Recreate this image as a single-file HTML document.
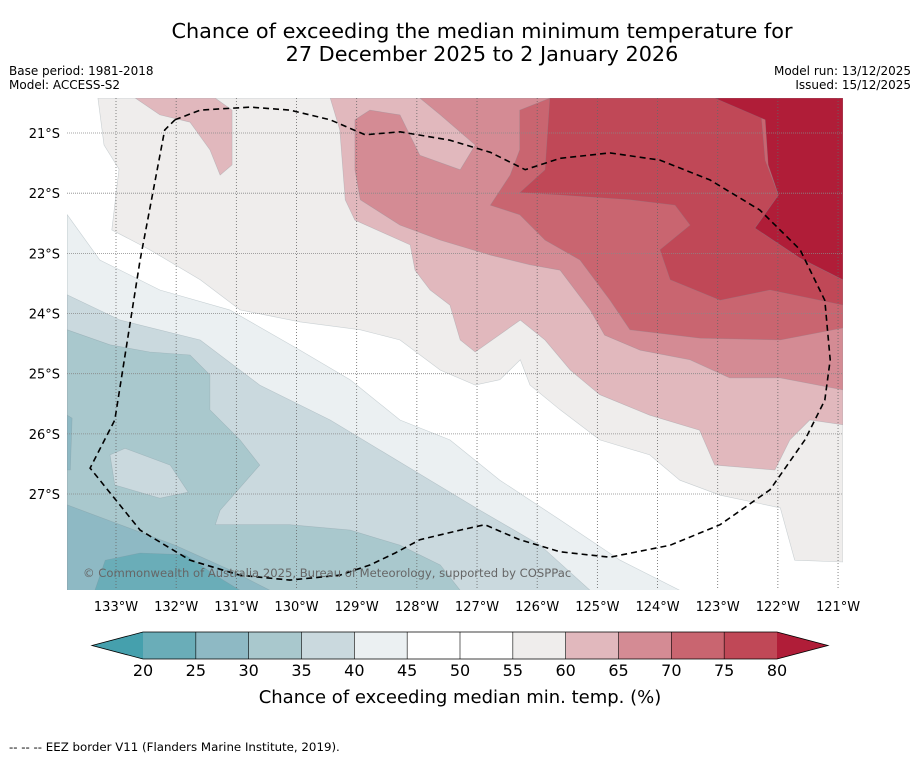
<!DOCTYPE html>
<html><head><meta charset="utf-8"><style>
html,body{margin:0;padding:0;background:#fff;}
svg{display:block;font-family:"DejaVu Sans","Liberation Sans",sans-serif;}
</style></head><body>
<svg id="svg" width="919" height="758" viewBox="0 0 919 758">
<defs><clipPath id="mapclip"><rect x="67" y="98" width="776" height="492"/></clipPath></defs>
<text x="482" y="38" text-anchor="middle" font-size="20.8" fill="#000">Chance of exceeding the median minimum temperature for</text>
<text x="482" y="61" text-anchor="middle" font-size="20.8" fill="#000">27 December 2025 to 2 January 2026</text>
<text x="9" y="75" font-size="12">Base period: 1981-2018</text>
<text x="9" y="89" font-size="12">Model: ACCESS-S2</text>
<text x="911" y="75" font-size="12" text-anchor="end">Model run: 13/12/2025</text>
<text x="911" y="89" font-size="12" text-anchor="end">Issued: 15/12/2025</text>
<g id="map" clip-path="url(#mapclip)">
<rect x="67" y="98" width="776" height="492" fill="#ffffff"/>
</g>
<g id="axes"></g>
<g id="cbar"></g>
<text x="460" y="703" text-anchor="middle" font-size="18">Chance of exceeding median min. temp. (%)</text>
<text x="9" y="751" font-size="11.8">--  --  -- EEZ border V11 (Flanders Marine Institute, 2019).</text>
</svg>
<script>
// Axis tick data
const lonTicks = [133,132,131,130,129,128,127,126,125,124,123,122,121];
const latTicks = [21,22,23,24,25,26,27];
// Colour bar data
const levels = [20,25,30,35,40,45,50,55,60,65,70,75,80];
const binColors = ["#6aadb8","#8eb9c4","#a9c8cd","#cad9de","#ebf0f2","#ffffff","#ffffff","#efedec","#e1b8bd","#d48b94","#c96570","#c04857"];
const underColor = "#45a0ad";
const overColor = "#b01d38";
// Contour regions: [degrees West, degrees South]
const regionColors = ["#ebf0f2","#cad9de","#a9c8cd","#cad9de","#8eb9c4","#8eb9c4","#6aadb8","#efedec","#e1b8bd","#e1b8bd","#d48b94","#c96570","#c04857","#b01d38"];
const regionNames = ["region-40-45","region-35-40","region-30-35","region-35-40-pocket","region-25-30","region-25-30-edge","region-20-25","region-55-60","region-60-65","region-60-65-west","region-65-70","region-70-75","region-75-80","region-above-80"];
const regions = [
[[133.81,22.36],[133.27,23.11],[132.27,23.61],[131.11,23.94],[129.94,24.61],[129.11,25.10],[128.28,25.77],[127.45,26.10],[126.62,26.77],[125.62,27.43],[124.62,28.10],[123.63,28.60],[133.81,28.60]],
[[133.81,23.69],[132.93,24.11],[131.60,24.44],[130.61,25.19],[129.44,25.77],[128.61,26.27],[127.78,26.77],[126.95,27.27],[125.95,27.85],[125.12,28.60],[133.81,28.60]],
[[133.81,24.27],[133.10,24.52],[132.44,24.64],[131.77,24.69],[131.44,25.02],[131.44,25.60],[130.94,26.10],[130.61,26.52],[131.27,27.27],[131.35,27.51],[130.11,27.51],[129.11,27.60],[128.28,27.85],[127.61,28.18],[127.28,28.60],[133.81,28.60]],
[[133.10,26.35],[132.85,26.24],[132.10,26.52],[131.80,26.97],[132.27,27.07],[133.02,26.85]],
[[133.81,27.18],[132.93,27.51],[132.02,27.85],[131.11,28.26],[130.44,28.60],[133.81,28.60]],
[[133.81,25.69],[133.73,25.74],[133.76,26.60],[133.81,26.60]],
[[133.35,28.60],[133.18,28.10],[132.60,27.98],[131.85,28.01],[131.35,28.35],[130.94,28.60]],
[[133.30,20.42],[133.20,21.20],[132.95,21.60],[133.07,22.61],[132.44,22.94],[131.60,23.44],[130.94,23.94],[129.94,24.14],[128.94,24.27],[128.28,24.44],[127.61,24.94],[127.03,25.19],[126.62,25.10],[126.28,24.77],[126.12,25.19],[125.62,25.60],[124.96,26.10],[124.13,26.35],[123.63,26.77],[122.96,27.02],[121.96,27.23],[121.72,28.10],[120.92,28.13],[120.92,20.42]],
[[129.44,20.42],[129.28,20.95],[129.19,22.11],[129.03,22.45],[128.11,22.86],[128.03,23.28],[127.78,23.61],[127.45,23.86],[127.28,24.44],[127.03,24.64],[126.28,24.11],[125.87,24.44],[125.45,24.94],[124.96,25.35],[124.13,25.69],[123.30,25.94],[123.05,26.52],[122.05,26.60],[121.80,26.10],[121.47,25.77],[120.92,25.85],[120.92,20.42]],
[[132.68,20.42],[132.27,20.70],[131.77,20.82],[131.44,21.28],[131.27,21.70],[131.07,21.53],[131.07,20.62],[131.35,20.42]],
[[129.03,20.78],[128.78,20.62],[128.28,20.70],[127.95,21.37],[127.28,21.61],[127.03,21.20],[127.61,20.70],[127.95,20.42],[120.92,20.42],[120.92,25.27],[121.96,25.07],[122.80,25.07],[123.46,24.77],[124.29,24.61],[124.88,24.36],[125.12,23.94],[125.62,23.28],[126.12,23.19],[126.78,23.03],[127.61,22.78],[128.28,22.53],[128.94,22.11],[129.03,21.61]],
[[126.78,22.20],[126.29,22.36],[125.87,22.78],[125.29,23.11],[124.79,23.78],[124.46,24.27],[123.29,24.41],[121.96,24.44],[120.92,24.24],[120.92,20.42],[125.79,20.42],[126.29,20.62],[126.29,21.28],[126.45,21.70]],
[[126.29,21.99],[125.87,21.61],[125.79,20.42],[122.30,20.42],[122.21,21.45],[121.99,22.03],[122.38,22.58],[121.63,23.08],[120.92,23.44],[120.92,23.86],[122.13,23.61],[122.96,23.78],[123.79,23.44],[123.96,22.94],[123.46,22.53],[123.71,22.20],[124.46,22.11],[125.62,22.03]],
[[123.05,20.42],[122.21,20.78],[122.16,21.53],[121.99,22.03],[122.38,22.58],[121.63,23.08],[120.92,23.44],[120.92,20.42]]
];
// EEZ border line
const eez = [[132.02,20.78],[131.60,20.62],[130.77,20.57],[130.11,20.62],[129.44,20.78],[128.86,21.03],[128.28,20.98],[127.45,21.12],[126.78,21.32],[126.20,21.61],[125.62,21.42],[124.79,21.33],[123.96,21.45],[123.13,21.78],[122.30,22.28],[121.63,22.94],[121.22,23.78],[121.13,24.77],[121.22,25.44],[121.55,26.10],[122.13,26.93],[122.96,27.51],[123.79,27.85],[124.79,28.05],[125.62,27.96],[126.29,27.76],[126.87,27.51],[127.28,27.60],[127.95,27.76],[128.36,27.98],[128.78,28.18],[129.28,28.35],[130.11,28.43],[130.94,28.35],[131.77,28.10],[132.60,27.60],[133.43,26.57],[133.02,25.77],[132.60,23.11],[132.19,20.95],[132.02,20.78]];

const NS = "http://www.w3.org/2000/svg";
const PX = 60.17;
function xOf(w){ return 116 + (133 - w) * PX; }
function yOf(s){ return 133 + (s - 21) * PX; }
function cx(v){ return 143 + (v - 20) / 60 * 634; }
function mk(tag, attrs, parent){ const e=document.createElementNS(NS,tag); for(const k in attrs) e.setAttribute(k,attrs[k]); parent.appendChild(e); return e; }
function pts(arr){ return arr.map(p=>xOf(p[0]).toFixed(1)+","+yOf(p[1]).toFixed(1)).join(" "); }

const map = document.getElementById("map");
regions.forEach((r,i)=>{
  const p = mk("polygon",{points:pts(r),fill:regionColors[i],stroke:"rgba(120,140,150,0.35)","stroke-width":"0.6"},map);
  
  
});
lonTicks.forEach(w=>{
  const l = mk("line",{x1:xOf(w),x2:xOf(w),y1:98,y2:590,stroke:"#666","stroke-width":"0.8","stroke-dasharray":"1,2"},map);
  
  
});
latTicks.forEach(s=>{
  const l = mk("line",{x1:67,x2:843,y1:yOf(s),y2:yOf(s),stroke:"#888","stroke-width":"0.8","stroke-dasharray":"1,1"},map);
  
  
});
const eezLine = mk("polyline",{points:pts(eez),fill:"none",stroke:"#000","stroke-width":"1.6","stroke-dasharray":"6,4"},map);


const cr = mk("text",{x:83,y:577,"font-size":"11.6",fill:"#666"},map);
cr.textContent = "© Commonwealth of Australia 2025, Bureau of Meteorology, supported by COSPPac";



const axes = document.getElementById("axes");
lonTicks.forEach(w=>{
  const t = mk("text",{x:xOf(w),y:611,"text-anchor":"middle","font-size":"13"},axes);
  t.textContent = w+"°W";
  
  
});
latTicks.forEach(s=>{
  const t = mk("text",{x:60,y:yOf(s)+5,"text-anchor":"end","font-size":"13"},axes);
  t.textContent = s+"°S";
  
  
});

const cb = document.getElementById("cbar");
binColors.forEach((c,i)=>{
  const r = mk("rect",{x:cx(levels[i]),y:632,width:cx(levels[i+1])-cx(levels[i]),height:27,fill:c},cb);
  
  
});
const tl = mk("polygon",{points:`${cx(levels[0])},632 ${cx(levels[0])},659 92,645.5`,fill:underColor},cb);


const last = levels[levels.length-1];
const tr = mk("polygon",{points:`${cx(last)},632 ${cx(last)},659 828,645.5`,fill:overColor},cb);


const outline = mk("polygon",{points:`92,645.5 ${cx(levels[0])},632 ${cx(last)},632 828,645.5 ${cx(last)},659 ${cx(levels[0])},659`,fill:"none",stroke:"#000","stroke-width":"0.8"},cb);


levels.forEach((v,i)=>{
  if(i>0 && i<levels.length-1){
    const d = mk("line",{x1:cx(v),x2:cx(v),y1:632,y2:659,stroke:"#000","stroke-width":"0.6"},cb);
    
    
  }
  const t = mk("text",{x:cx(v),y:676,"text-anchor":"middle","font-size":"16"},cb);
  t.textContent = v;
  
  
});
</script>
</body></html>
